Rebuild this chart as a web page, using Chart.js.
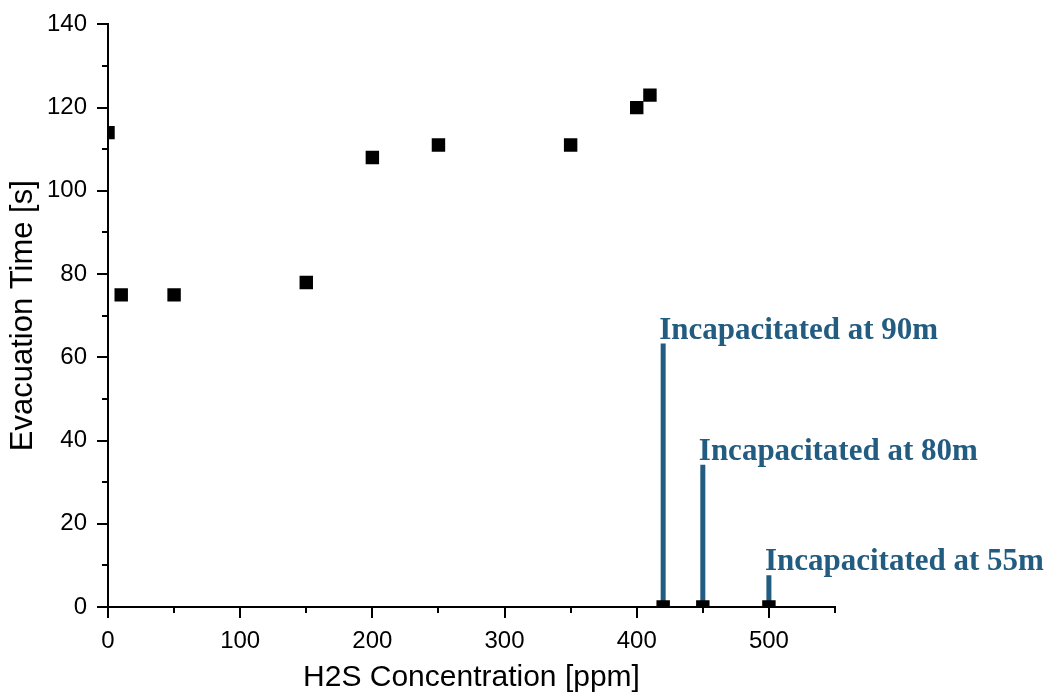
<!DOCTYPE html>
<html>
<head>
<meta charset="utf-8">
<title>Evacuation time vs H2S concentration</title>
<script src="https://cdn.jsdelivr.net/npm/chart.js@4.4.1/dist/chart.umd.min.js"></script>
<style>
  html, body { margin: 0; padding: 0; background: #fff; }
  #wrap { width: 1051px; height: 700px; }
</style>
</head>
<body>
<div id="wrap"><canvas id="chart"></canvas></div>
<script>
// measured evacuation times per H2S concentration
const concentration = [0, 10, 50, 150, 200, 250, 350, 400, 410, 420, 450, 500];
const evacTime = [114, 75, 75, 78, 108, 111, 111, 120, 123, 0, 0, 0];

// runs where the occupant was incapacitated
const incapX = [420, 450, 500];
const incapTop = [63.3, 34.2, 7.6];
const incapLabels = ['Incapacitated at 90m', 'Incapacitated at 80m', 'Incapacitated at 55m'];

const xTicks = [0, 100, 200, 300, 400, 500];
const yTicks = [0, 20, 40, 60, 80, 100, 120, 140];
const xMinor = [50, 150, 250, 350, 450, 550];
const yMinor = [10, 30, 50, 70, 90, 110, 130];

const BLUE = '#235c81';
const AXIS_FONT = "'Liberation Sans', Arial, sans-serif";

const datasets = [{
    type: 'scatter',
    data: concentration.map((x, i) => ({ x: x, y: evacTime[i] })),
    pointStyle: 'rect',
    pointRadius: 9.5,
    pointBorderWidth: 0,
    backgroundColor: '#000',
    borderColor: '#000',
    clip: 0,
    order: 0
}];

incapX.forEach((x, i) => {
    datasets.push({
        type: 'line',
        data: [{ x: x, y: 0 }, { x: x, y: incapTop[i] }],
        borderColor: BLUE,
        borderWidth: 5,
        borderCapStyle: 'butt',
        pointRadius: 0,
        order: 1
    });
});

// minor ticks and the blue annotations
const extrasPlugin = {
    id: 'extras',
    afterDraw(chart) {
        const ctx = chart.ctx;
        const xs = chart.scales.x;
        const ys = chart.scales.y;
        const area = chart.chartArea;
        ctx.save();
        ctx.strokeStyle = '#000';
        ctx.lineWidth = 2;
        ctx.beginPath();
        xMinor.forEach(v => {
            const px = Math.round(xs.getPixelForValue(v));
            ctx.moveTo(px, area.bottom);
            ctx.lineTo(px, area.bottom + 6);
        });
        yMinor.forEach(v => {
            const py = Math.round(ys.getPixelForValue(v));
            ctx.moveTo(area.left, py);
            ctx.lineTo(area.left - 6, py);
        });
        ctx.stroke();

        ctx.fillStyle = BLUE;
        ctx.font = "bold 31px 'Liberation Serif', 'Times New Roman', serif";
        ctx.textAlign = 'left';
        ctx.textBaseline = 'alphabetic';
        incapX.forEach((x, i) => {
            const px = xs.getPixelForValue(x);
            const py = ys.getPixelForValue(incapTop[i]);
            ctx.fillText(incapLabels[i], px - 4, py - 5);
        });
        ctx.restore();
    }
};

new Chart(document.getElementById('chart'), {
    data: { datasets: datasets },
    options: {
        responsive: true,
        maintainAspectRatio: false,
        animation: false,
        events: [],
        layout: { padding: { top: 21, right: 216, left: 0, bottom: 0 } },
        plugins: {
            legend: { display: false },
            tooltip: { enabled: false }
        },
        scales: {
            x: {
                type: 'linear',
                min: 0,
                max: 550,
                afterBuildTicks: s => { s.ticks = xTicks.map(v => ({ value: v })); },
                afterFit: s => { s.height = 93; },
                border: { display: true, color: '#000', width: 2 },
                grid: { drawOnChartArea: false, tickLength: 11, lineWidth: 2, color: '#000' },
                ticks: {
                    color: '#000',
                    padding: 9,
                    maxRotation: 0,
                    font: { family: AXIS_FONT, size: 24 }
                },
                title: {
                    display: true,
                    text: 'H2S Concentration [ppm]',
                    color: '#000',
                    padding: { top: 0, bottom: 4 },
                    font: { family: AXIS_FONT, size: 30 }
                }
            },
            y: {
                type: 'linear',
                min: 0,
                max: 140,
                afterBuildTicks: s => { s.ticks = yTicks.map(v => ({ value: v })); },
                afterFit: s => { s.width = 108; },
                border: { display: true, color: '#000', width: 2 },
                grid: { drawOnChartArea: false, tickLength: 11, lineWidth: 2, color: '#000' },
                ticks: {
                    color: '#000',
                    padding: 10,
                    font: { family: AXIS_FONT, size: 24 }
                },
                title: {
                    display: true,
                    text: 'Evacuation Time [s]',
                    color: '#000',
                    padding: { top: 5, bottom: 0 },
                    font: { family: AXIS_FONT, size: 31 }
                }
            }
        }
    },
    plugins: [extrasPlugin]
});
</script>
</body>
</html>
